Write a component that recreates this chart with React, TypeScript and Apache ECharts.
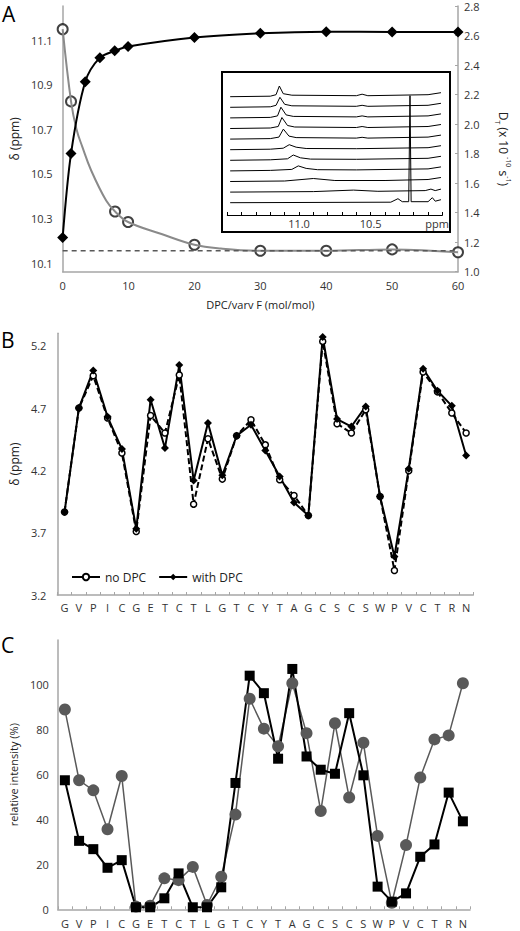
import React, { useEffect, useRef } from 'react';
import * as echarts from 'echarts';

const FONT = '"Open Sans", "Liberation Sans", sans-serif';

// ---------- Panel A ----------
const ratioDT = [0, 1.27, 3.43, 5.65, 7.9, 9.93, 20, 30, 40, 50, 60];
const diffusionDT = [1.232, 1.8, 2.287, 2.45, 2.496, 2.525, 2.586, 2.615, 2.626, 2.624, 2.624];
const ratioShift = [0, 1.27, 7.95, 9.93, 20, 30, 40, 50, 60];
const shiftPpm = [11.149, 10.825, 10.331, 10.284, 10.182, 10.155, 10.155, 10.161, 10.148];
const fitRatio = [0, 1.27, 2.1, 3.0, 4.33, 6.6, 7.95, 9.93, 15, 20, 24, 30, 40, 50, 60];
const fitShift = [11.149, 10.825, 10.7, 10.62, 10.515, 10.38, 10.331, 10.284, 10.23, 10.182, 10.165, 10.155, 10.155, 10.161, 10.148];
const freeShift = 10.155;
const shiftTicks = [10.1, 10.3, 10.5, 10.7, 10.9, 11.1];

// inset spectra: [ppm, intensity above own baseline]
const trace1 = [[11.48, 0], [11.2, 0.5], [11.16, 2], [11.137, 10.7], [11.11, 3], [11.05, 1.5], [10.6, 1], [10.56, 2.5], [10.52, 1], [10.1, 2], [10.01, 4]];
const trace2 = [[11.48, 0], [11.2, 0.5], [11.16, 2], [11.133, 10], [11.1, 3], [11.05, 1.5], [10.6, 1], [10.56, 2], [10.52, 1], [10.1, 2], [10.01, 4]];
const trace3 = [[11.48, 0], [11.2, 0.5], [11.15, 2], [11.126, 10.7], [11.09, 3], [11.04, 1.5], [10.6, 1], [10.56, 2], [10.52, 1], [10.1, 2], [10.01, 4]];
const trace4 = [[11.48, 0], [11.2, 0.5], [11.145, 2], [11.119, 11], [11.08, 3], [11.03, 1.5], [10.6, 1], [10.56, 2], [10.52, 1], [10.1, 2], [10.01, 4]];
const trace5 = [[11.48, 0], [11.2, 0.5], [11.14, 2], [11.109, 10], [11.07, 3], [11.02, 1.5], [10.6, 1], [10.56, 1.8], [10.52, 1], [10.1, 2], [10.01, 4]];
const trace6 = [[11.48, 0], [11.2, 0.5], [11.11, 1.5], [11.068, 5], [11.02, 2.5], [10.95, 1.2], [10.6, 1], [10.1, 2], [10.01, 4]];
const trace7 = [[11.48, 0], [11.2, 0.5], [11.08, 1.5], [11.04, 5.3], [10.99, 2.5], [10.92, 1.2], [10.6, 1], [10.1, 2], [10.01, 4]];
const trace8 = [[11.48, 0], [11.2, 0.5], [11.05, 1.5], [11.005, 5], [10.95, 2.5], [10.87, 1.2], [10.6, 1], [10.1, 2], [10.01, 4]];
const trace9 = [[11.48, 0], [11.1, 0.5], [10.9, 3], [10.75, 1], [10.4, 1], [10.1, 2], [10.01, 4]];
const trace10 = [[11.48, 0], [10.9, 0.5], [10.62, 2], [10.45, 0.8], [10.12, 1.5], [10.08, 3], [10.05, 1.5], [10.01, 3]];
const trace11 = [[11.48, 0], [10.36, 0.5], [10.31, 4], [10.28, 1], [10.235, 1], [10.226, 107], [10.218, 1], [10.1, 1], [10.07, 5], [10.05, 1.5], [10.01, 3]];
const spectra = [trace1, trace2, trace3, trace4, trace5, trace6, trace7, trace8, trace9, trace10, trace11];

// ---------- Panel B ----------
const residues = ['G', 'V', 'P', 'I', 'C', 'G', 'E', 'T', 'C', 'T', 'L', 'G', 'T', 'C', 'Y', 'T', 'A', 'G', 'C', 'S', 'C', 'S', 'W', 'P', 'V', 'C', 'T', 'R', 'N'];
const noDPC = [3.866, 4.7, 4.959, 4.62, 4.339, 3.71, 4.64, 4.5, 4.965, 3.929, 4.454, 4.13, 4.478, 4.606, 4.405, 4.125, 3.999, 3.838, 5.235, 4.574, 4.5, 4.686, 3.99, 3.397, 4.197, 4.989, 4.83, 4.66, 4.5];
const withDPC = [3.866, 4.7, 5.002, 4.63, 4.371, 3.731, 4.767, 4.379, 5.045, 4.119, 4.58, 4.16, 4.478, 4.566, 4.36, 4.151, 3.942, 3.838, 5.27, 4.612, 4.552, 4.713, 3.99, 3.509, 4.213, 5.015, 4.839, 4.718, 4.32];
const bTicks = [3.2, 3.7, 4.2, 4.7, 5.2];

// ---------- Panel C ----------
const intensitySquares = [57.5, 30.5, 26.8, 18.5, 21.9, 0.9, 0.9, 4.9, 16.0, 0.9, 0.9, 9.8, 56.3, 104.1, 96.3, 67.1, 107.1, 68.1, 62.2, 60.4, 87.4, 59.7, 10.1, 3.4, 7.1, 23.4, 28.9, 52.0, 39.2];
const intensityCircles = [89.0, 57.5, 53.0, 35.7, 59.4, 1.2, 1.6, 13.8, 13.0, 18.9, 1.9, 14.5, 42.2, 93.8, 80.5, 72.6, 100.7, 78.5, 43.8, 82.9, 49.8, 74.2, 32.7, 2.9, 28.6, 58.7, 75.7, 77.5, 100.7];
const cTicks = [0, 20, 40, 60, 80, 100];

const AXIS_GREY = '#a6a6a6';
const axisLine = { show: true, lineStyle: { color: AXIS_GREY, width: 1.5 } };
const labelStyle = { color: '#333', fontSize: 11, fontFamily: FONT };
const nameStyle = { color: '#222', fontSize: 12, fontFamily: FONT };

export default function App() {
  const ref = useRef<HTMLDivElement>(null);
  useEffect(() => {
    const chart = echarts.init(ref.current as HTMLDivElement, null, { renderer: 'svg' });
    const pairs = (xs: number[], ys: number[]) => xs.map((x, i) => [x, ys[i]]);
    const option: any = {
      animation: false,
      backgroundColor: '#fff',
      textStyle: { fontFamily: FONT },
      grid: [
        { left: 46, top: 6, width: 426, height: 265.7 },
        { left: 227.3, top: 85, width: 215.1, height: 130 },
        { left: 48.3, top: 333.3, width: 425, height: 261.7 },
        { left: 44.3, top: 640, width: 425.7, height: 269.3 },
      ],
      xAxis: [
        {
          gridIndex: 0, type: 'value', min: 0, max: 60, interval: 10,
          axisLine, axisTick: { show: false }, splitLine: { show: false },
          axisLabel: { ...labelStyle, margin: 8 },
          name: 'DPC/varv F (mol/mol)', nameLocation: 'middle', nameGap: 27,
          nameTextStyle: { ...nameStyle, fontSize: 11 },
        },
        {
          gridIndex: 1, type: 'value', min: 10, max: 11.5, interval: 0.1, inverse: true, z: 10,
          axisLine: { show: true, lineStyle: { color: '#000', width: 1 } },
          axisTick: { show: true, inside: true, length: 3, lineStyle: { color: '#000' } },
          splitLine: { show: false },
          axisLabel: { ...labelStyle, margin: 3, customValues: [11.0, 10.5], formatter: (v: number) => v.toFixed(1) },
        },
        {
          gridIndex: 2, type: 'category', data: residues, boundaryGap: true,
          axisLine, axisTick: { show: true, inside: true, length: 3, lineStyle: { color: AXIS_GREY } },
          axisLabel: { ...labelStyle, interval: 0, margin: 7 },
        },
        {
          gridIndex: 3, type: 'category', data: residues, boundaryGap: true,
          axisLine, axisTick: { show: true, inside: true, length: 3, lineStyle: { color: AXIS_GREY } },
          axisLabel: { ...labelStyle, interval: 0, margin: 9 },
        },
      ],
      yAxis: [
        {
          gridIndex: 0, type: 'value', min: 10.061, max: 11.253,
          axisLine, axisTick: { show: false }, splitLine: { show: false },
          axisLabel: { ...labelStyle, margin: 10, customValues: shiftTicks, formatter: (v: number) => v.toFixed(1) },
          name: 'δ (ppm)', nameLocation: 'middle', nameGap: 32, nameTextStyle: nameStyle,
        },
        {
          gridIndex: 0, type: 'value', position: 'right', min: 1.0, max: 2.8, interval: 0.2,
          axisLine, axisTick: { show: true, inside: true, length: 3, lineStyle: { color: AXIS_GREY } },
          splitLine: { show: false },
          axisLabel: { ...labelStyle, margin: 6, formatter: (v: number) => v.toFixed(1) },
          name: '{n|D}{s|T}{n| (x 10 }{p|-10}{n| s}{p|-1}{n|)}',
          nameLocation: 'middle', nameGap: 36, nameRotate: -90,
          nameTextStyle: {
            ...nameStyle,
            padding: [0, 0, 0, 20],
            rich: {
              n: { fontSize: 12, fontFamily: FONT, color: '#222', lineHeight: 18 },
              s: { fontSize: 7, fontFamily: FONT, color: '#222', verticalAlign: 'bottom', lineHeight: 18 },
              p: { fontSize: 7, fontFamily: FONT, color: '#222', verticalAlign: 'top', lineHeight: 18 },
            },
          },
        },
        { gridIndex: 1, type: 'value', min: 0, max: 130, show: false, splitLine: { show: false } },
        {
          gridIndex: 2, type: 'value', min: 3.2, max: 5.3,
          axisLine, axisTick: { show: false }, splitLine: { show: false },
          axisLabel: { ...labelStyle, margin: 11, customValues: bTicks, formatter: (v: number) => v.toFixed(1) },
          name: 'δ (ppm)', nameLocation: 'middle', nameGap: 32, nameTextStyle: nameStyle,
        },
        {
          gridIndex: 3, type: 'value', min: 0, max: 120,
          axisLine, axisTick: { show: false }, splitLine: { show: false },
          axisLabel: { ...labelStyle, margin: 9, customValues: cTicks },
          name: 'relative intensity (%)', nameLocation: 'middle', nameGap: 30,
          nameTextStyle: { ...nameStyle, fontSize: 11 },
        },
      ],
      legend: {
        data: ['no DPC', 'with DPC'],
        left: 66, top: 566, itemWidth: 28, itemHeight: 8, itemGap: 12,
        textStyle: { fontSize: 12, color: '#222', fontFamily: FONT },
        lineStyle: { type: 'solid' },
      },
      graphic: [
        { type: 'text', left: 2, top: 3, style: { text: 'A', fontSize: 21, fontFamily: FONT, fill: '#000' } },
        { type: 'text', left: 1, top: 329, style: { text: 'B', fontSize: 21, fontFamily: FONT, fill: '#000' } },
        { type: 'text', left: 1, top: 634, style: { text: 'C', fontSize: 21, fontFamily: FONT, fill: '#000' } },
        {
          type: 'rect', z: -1, shape: { x: 222, y: 72, width: 228, height: 160 },
          style: { fill: '#fff', stroke: '#000', lineWidth: 2 },
        },
        {
          type: 'text', z: 3, x: 437, y: 223,
          style: { text: 'ppm', fontSize: 11, fontFamily: FONT, fill: '#333', align: 'center', verticalAlign: 'middle' },
        },
      ],
      series: [
        // Panel A
        {
          type: 'line', xAxisIndex: 0, yAxisIndex: 0, data: pairs(fitRatio, fitShift),
          smooth: 0.4, showSymbol: false, silent: true,
          lineStyle: { color: '#8a8a8a', width: 2 },
        },
        {
          type: 'line', xAxisIndex: 0, yAxisIndex: 0, data: [[0, freeShift], [60, freeShift]],
          showSymbol: false, silent: true,
          lineStyle: { color: '#595959', width: 1.5, type: [5, 4] },
        },
        {
          type: 'scatter', xAxisIndex: 0, yAxisIndex: 0, data: pairs(ratioShift, shiftPpm),
          symbol: 'circle', symbolSize: 10,
          itemStyle: { color: '#fff', borderColor: '#111', borderWidth: 2 },
        },
        {
          type: 'line', xAxisIndex: 0, yAxisIndex: 1, data: pairs(ratioDT, diffusionDT),
          smooth: 0.3, symbol: 'diamond', symbolSize: 11,
          lineStyle: { color: '#000', width: 2 }, itemStyle: { color: '#000' },
        },
        // Inset spectra
        ...spectra.map((t, i) => ({
          type: 'line', xAxisIndex: 1, yAxisIndex: 2, silent: true, showSymbol: false,
          data: t.map(([p, v]) => [p, v + 12.3 + (10 - i) * 10.6]),
          lineStyle: { color: '#000', width: 1 }, z: 4,
        })),
        // Panel B
        {
          type: 'line', name: 'no DPC', xAxisIndex: 2, yAxisIndex: 3, data: noDPC,
          symbol: 'circle', symbolSize: 6,
          lineStyle: { color: '#000', width: 2, type: [6, 3] },
          itemStyle: { color: '#fff', borderColor: '#000', borderWidth: 1.5 },
        },
        {
          type: 'line', name: 'with DPC', xAxisIndex: 2, yAxisIndex: 3, data: withDPC,
          symbol: 'diamond', symbolSize: 8,
          lineStyle: { color: '#000', width: 2 }, itemStyle: { color: '#000' },
        },
        // Panel C
        {
          type: 'line', name: 'grey', xAxisIndex: 3, yAxisIndex: 4, data: intensityCircles,
          symbol: 'circle', symbolSize: 12,
          lineStyle: { color: '#595959', width: 1.5 }, itemStyle: { color: '#595959' },
        },
        {
          type: 'line', name: 'black', xAxisIndex: 3, yAxisIndex: 4, data: intensitySquares,
          symbol: 'rect', symbolSize: 10,
          lineStyle: { color: '#000', width: 2 }, itemStyle: { color: '#000' },
        },
      ],
    };
    chart.setOption(option);
    return () => chart.dispose();
  }, []);
  return (
    <div
      ref={ref}
      style={{ position: 'fixed', left: 0, top: 0, width: 520, height: 931, background: '#fff' }}
    />
  );
}
